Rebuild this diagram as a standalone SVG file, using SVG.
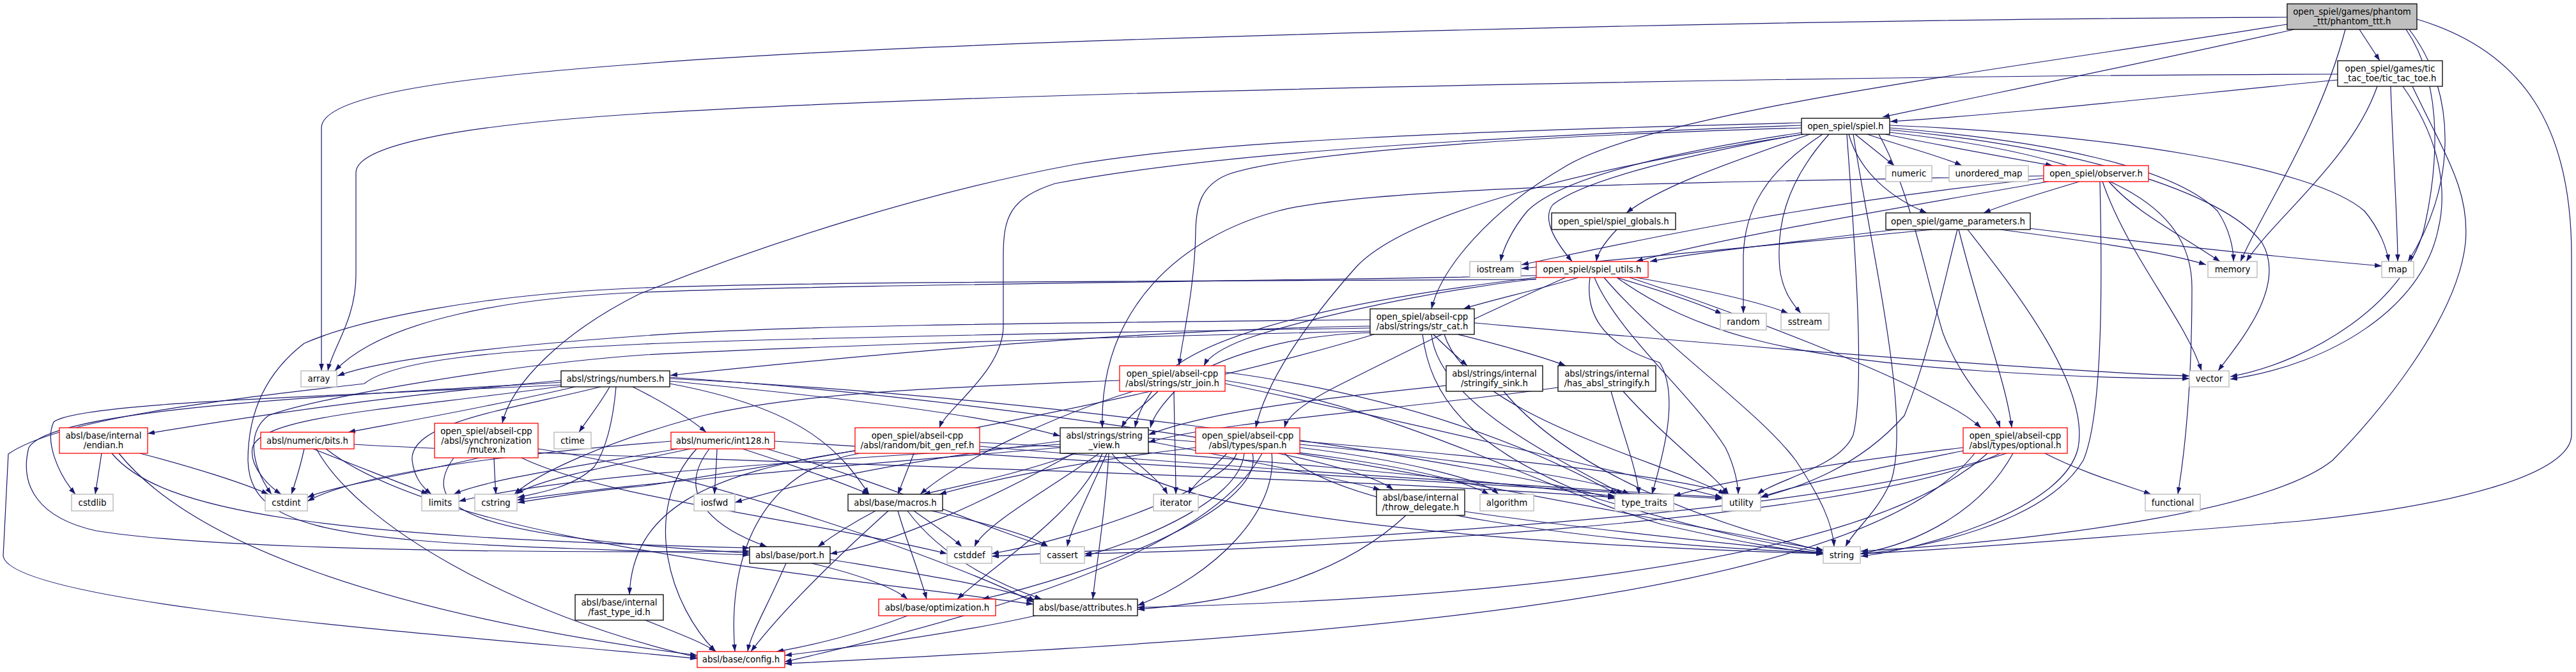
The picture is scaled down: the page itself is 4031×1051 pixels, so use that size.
<svg xmlns="http://www.w3.org/2000/svg" width="4031" height="1051" viewBox="0 0 4031 1051">
<style>
.t{font-family:"DejaVu Sans","Liberation Sans",sans-serif;font-size:13.33px;text-anchor:middle;fill:#000}
.g{fill:#fff;stroke:#bfbfbf;stroke-width:1.5}
.k{fill:#fff;stroke:#000;stroke-width:1.3}
.r{fill:#fff;stroke:#ff0000;stroke-width:1.3}
.root{fill:#bfbfbf;stroke:#000;stroke-width:1.3}
.e{fill:none;stroke:#191970;stroke-width:1.2;marker-end:url(#a)}
</style>
<defs>
<marker id="a" viewBox="0 0 10 7" refX="10" refY="3.5" markerWidth="11" markerHeight="8" markerUnits="userSpaceOnUse" orient="auto"><path d="M0,0L10,3.5L0,7z" fill="#191970"/></marker>
</defs>
<rect width="4031" height="1051" fill="#fff"/>
<g id="edges">
<path class="e" d="M3579,27 C2800,30 1500,60 1000,100 C700,122 503,150 503,200 L503,580"/>
<path class="e" d="M3579,38 C3200,100 2600,170 2450,260 C2330,330 2255,420 2240,483"/>
<path class="e" d="M3590,46 C3350,100 3100,150 2946,183"/>
<path class="e" d="M3692,46 L3724,95"/>
<path class="e" d="M3670,46 C3630,200 3540,330 3506,409"/>
<path class="e" d="M3770,46 C3850,150 3840,300 3768,409"/>
<path class="e" d="M3765,46 C3830,140 3810,280 3795,350 C3770,470 3620,565 3490,589"/>
<path class="e" d="M3782,30 C3950,80 4024,200 4024,400 L4024,680 C4024,740 3850,790 3600,815 C3300,840 3050,860 2912,866"/>
<path class="e" d="M3658,116 C3000,117 1600,140 1000,178 C700,197 557,230 557,270 L557,430 C557,500 520,545 513,580"/>
<path class="e" d="M3658,125 C3400,150 3150,178 2958,190"/>
<path class="e" d="M3720,135 C3680,250 3560,340 3515,409"/>
<path class="e" d="M3741,135 C3745,250 3752,350 3752,409"/>
<path class="e" d="M3760,135 C3820,220 3830,300 3815,360 C3790,480 3650,570 3490,593"/>
<path class="e" d="M3775,135 C3830,250 3865,300 3858,380 C3845,500 3720,650 3650,720 C3550,800 3200,845 2912,862"/>
<path class="e" d="M2903,210 L2964,259"/>
<path class="e" d="M2922,210 C2980,230 3040,245 3070,259"/>
<path class="e" d="M2950,210 C3050,230 3150,248 3212,259"/>
<path class="e" d="M2832,210 C2720,250 2600,290 2545,333"/>
<path class="e" d="M2893,210 C2910,270 2960,310 3015,333"/>
<path class="e" d="M2822,207 C2600,240 2440,280 2390,330 C2365,360 2352,390 2348,409"/>
<path class="e" d="M2825,209 C2650,240 2480,280 2430,320 C2410,345 2440,385 2460,409"/>
<path class="e" d="M2957,200 C3200,220 3400,260 3470,330 C3490,360 3495,390 3495,409"/>
<path class="e" d="M2957,196 C3300,210 3620,260 3700,330 C3725,360 3735,390 3738,409"/>
<path class="e" d="M2957,203 C3250,230 3480,300 3540,380 C3580,450 3500,540 3471,580"/>
<path class="e" d="M2900,210 C2930,400 2990,650 2960,750 C2940,800 2900,830 2888,855"/>
<path class="e" d="M2957,207 C3300,245 3430,320 3430,450 C3430,600 3420,700 3408,773"/>
<path class="e" d="M2852,210 C2760,270 2730,330 2728,400 L2728,490"/>
<path class="e" d="M2862,210 C2790,290 2780,360 2785,420 C2790,460 2810,480 2818,490"/>
<path class="e" d="M2890,210 C2900,350 2920,600 2900,680 C2880,730 2780,750 2750,773"/>
<path class="e" d="M2940,210 C2990,300 3010,420 3040,520 C3070,600 3120,640 3130,669"/>
<path class="e" d="M2822,210 C2500,260 2200,330 2120,420 C2040,510 1980,600 1965,669"/>
<path class="e" d="M2820,200 C2300,215 2000,245 1921,273 C1880,290 1872,320 1871,360 C1870,450 1850,530 1845,572"/>
<path class="e" d="M2820,196 C2300,215 1900,240 1651,287 C1580,310 1570,340 1570,400 L1570,510 C1570,580 1480,640 1470,669"/>
<path class="e" d="M2820,192 C2300,205 1900,220 1683,257 C1450,300 1200,380 1000,460 C880,520 800,600 786,662"/>
<path class="e" d="M3254,284 C3200,300 3140,318 3104,333"/>
<path class="e" d="M3300,284 C3340,330 3400,360 3474,409"/>
<path class="e" d="M3290,284 C3330,400 3420,500 3445,580"/>
<path class="e" d="M3286,284 C3290,450 3290,650 3260,720 C3200,820 3000,860 2912,866"/>
<path class="e" d="M3205,284 C3000,320 2700,370 2560,409"/>
<path class="e" d="M3198,279 C2800,320 2500,390 2381,414"/>
<path class="e" d="M3198,275 C2700,285 2150,290 2000,330 C1850,370 1720,480 1725,669"/>
<path class="e" d="M3130,359 C3250,375 3380,392 3452,414"/>
<path class="e" d="M3175,357 C3400,385 3600,405 3727,416"/>
<path class="e" d="M3079,359 C3150,450 3270,600 3252,700 C3230,800 3000,860 2912,870"/>
<path class="e" d="M2967,359 C2800,380 2650,395 2582,409"/>
<path class="e" d="M3024,359 C2800,380 2600,400 2381,420"/>
<path class="e" d="M3065,359 C3100,500 3140,600 3148,669"/>
<path class="e" d="M3063,359 C3040,450 3020,550 2980,650 C2900,740 2800,765 2756,778"/>
<path class="e" d="M2530,359 C2510,380 2500,395 2498,409"/>
<path class="e" d="M2404,431 C2000,440 1300,445 1008,457 C800,465 600,500 524,580"/>
<path class="e" d="M2470,434 C2400,455 2330,470 2290,483"/>
<path class="e" d="M2530,434 C2600,455 2660,475 2695,491"/>
<path class="e" d="M2560,434 C2650,450 2750,470 2798,490"/>
<path class="e" d="M2530,434 C2650,520 2800,560 3100,580 C3250,590 3370,592 3426,592"/>
<path class="e" d="M2510,434 C2600,540 2750,640 2810,720 C2850,780 2868,820 2870,855"/>
<path class="e" d="M2404,436 C2200,460 2016,507 1950,530 C1910,545 1890,560 1884,572"/>
<path class="e" d="M2450,434 C2300,500 2200,550 2100,600 C2040,630 2015,650 2010,669"/>
<path class="e" d="M2550,434 C2750,500 2950,580 3040,630 C3070,645 3090,660 3100,669"/>
<path class="e" d="M2488,434 C2479,500 2519,543 2597,567 C2630,620 2600,720 2585,773"/>
<path class="e" d="M2495,434 C2530,520 2650,620 2700,700 C2715,730 2720,760 2720,773"/>
<path class="e" d="M2404,437 C1800,440 1300,440 1008,450 C750,460 560,500 476,537 C420,580 388,640 388,720 C390,820 500,845 900,858 C1000,862 1100,865 1173,868"/>
<path class="e" d="M2404,434 C2100,470 1900,520 1830,580 C1790,620 1780,650 1776,669"/>
<path class="e" d="M2243,523 C2260,540 2280,558 2296,572"/>
<path class="e" d="M2281,523 C2350,540 2420,560 2450,572"/>
<path class="e" d="M2144,510 C1800,515 1400,550 1049,587"/>
<path class="e" d="M2150,520 C2016,523 1900,560 1850,600 C1820,630 1805,650 1800,669"/>
<path class="e" d="M2144,500 C1600,505 1200,510 1008,525 C800,540 600,560 528,588"/>
<path class="e" d="M2307,505 C2700,540 3200,580 3426,588"/>
<path class="e" d="M2226,523 C2238,617 2292,700 2500,780 C2700,840 2800,855 2853,864"/>
<path class="e" d="M2144,518 C1600,530 1200,545 1008,555 C800,570 500,620 420,650 C380,680 400,740 425,773"/>
<path class="e" d="M2144,513 C1700,520 1200,530 1008,538 C800,548 620,560 570,600 C400,620 100,650 13,710 L5,870 C20,950 800,1000 1091,1030"/>
<path class="e" d="M2240,523 C2250,620 2400,700 2540,773"/>
<path class="e" d="M2260,523 C2300,650 2600,720 2700,773"/>
<path class="e" d="M2150,523 C1900,600 1400,700 1008,760 C900,770 850,780 810,786"/>
<path class="e" d="M2263,603 C2100,620 1900,640 1797,680"/>
<path class="e" d="M2353,612 C2434,710 2600,800 2853,862"/>
<path class="e" d="M2438,606 C2200,640 1900,660 1797,692"/>
<path class="e" d="M2521,612 C2540,680 2560,730 2565,773"/>
<path class="e" d="M2540,612 C2600,680 2680,740 2705,773"/>
<path class="e" d="M1812,612 C1790,635 1765,650 1755,669"/>
<path class="e" d="M1837,612 C1838,680 1840,740 1840,773"/>
<path class="e" d="M1773,612 C1650,650 1500,720 1440,773"/>
<path class="e" d="M1752,595 C1500,605 1265,612 1100,650 C950,690 840,740 805,773"/>
<path class="e" d="M1917,595 C2200,640 2400,760 2600,820 C2750,855 2820,862 2853,867"/>
<path class="e" d="M1917,582 C2200,620 2400,700 2530,773"/>
<path class="e" d="M1917,600 C2200,660 2500,730 2695,778"/>
<path class="e" d="M878,595 C600,620 400,650 231,678"/>
<path class="e" d="M900,605 C750,640 600,665 545,676"/>
<path class="e" d="M954,605 C940,630 920,655 906,676"/>
<path class="e" d="M990,605 C1040,630 1080,655 1105,676"/>
<path class="e" d="M1048,596 C1300,620 1550,650 1659,682"/>
<path class="e" d="M878,602 C500,620 120,630 84,660 C70,690 90,740 118,773"/>
<path class="e" d="M880,604 C620,640 410,650 395,700 C390,730 420,760 440,773"/>
<path class="e" d="M940,605 C800,640 640,660 645,720 C648,750 665,765 675,773"/>
<path class="e" d="M964,605 C960,650 950,700 930,730 C900,760 850,770 810,778"/>
<path class="e" d="M878,598 C500,620 80,640 45,700 C30,760 60,810 150,830 C300,855 700,866 1173,862"/>
<path class="e" d="M1048,600 C1265,640 1317,710 1360,773"/>
<path class="e" d="M1048,592 C1600,620 2200,700 2527,780"/>
<path class="e" d="M1048,590 C1800,640 2500,800 2853,860"/>
<path class="e" d="M159,709 L149,773"/>
<path class="e" d="M219,709 C300,730 380,755 420,773"/>
<path class="e" d="M175,709 C250,800 500,840 1173,857"/>
<path class="e" d="M186,709 C300,850 600,960 1091,1025"/>
<path class="e" d="M476,702 C470,730 462,755 456,773"/>
<path class="e" d="M490,702 C560,730 640,760 670,773"/>
<path class="e" d="M495,702 C560,820 800,960 1091,1028"/>
<path class="e" d="M554,695 C1000,720 2000,740 2527,778"/>
<path class="e" d="M510,702 C700,850 1300,900 1617,945"/>
<path class="e" d="M750,716 C650,740 520,760 481,778"/>
<path class="e" d="M773,716 C774,740 775,760 776,773"/>
<path class="e" d="M710,716 C650,800 750,840 1173,865"/>
<path class="e" d="M816,716 C950,780 1250,810 1482,866"/>
<path class="e" d="M842,702 C1100,740 1500,880 1617,942"/>
<path class="e" d="M1050,690 C800,710 560,740 481,784"/>
<path class="e" d="M1122,702 C1121,730 1119,755 1118,773"/>
<path class="e" d="M1060,702 C900,730 760,750 710,773"/>
<path class="e" d="M1080,702 C950,730 840,750 808,773"/>
<path class="e" d="M1162,702 C1250,730 1330,760 1360,773"/>
<path class="e" d="M1110,702 C1050,780 1130,830 1200,855"/>
<path class="e" d="M1090,702 C1000,800 1050,950 1120,1019"/>
<path class="e" d="M1200,702 C1400,760 1550,830 1640,855"/>
<path class="e" d="M1212,690 C1700,720 2300,760 2695,780"/>
<path class="e" d="M1430,709 C1422,730 1412,755 1405,773"/>
<path class="e" d="M1338,705 C1100,740 990,800 985,930"/>
<path class="e" d="M1345,709 C1170,740 1140,900 1150,1019"/>
<path class="e" d="M1533,692 C1900,710 2300,750 2527,776"/>
<path class="e" d="M1533,698 C1900,730 2400,760 2695,778"/>
<path class="e" d="M1683,709 C1600,740 1500,760 1445,773"/>
<path class="e" d="M1720,709 C1650,760 1540,820 1525,855"/>
<path class="e" d="M1725,709 C1690,800 1560,880 1498,937"/>
<path class="e" d="M1732,709 C1700,780 1675,830 1670,855"/>
<path class="e" d="M1735,709 C1730,800 1716,880 1710,937"/>
<path class="e" d="M1760,709 C1800,740 1820,760 1827,773"/>
<path class="e" d="M1740,709 C1800,800 2300,850 2853,866"/>
<path class="e" d="M1659,690 C1500,710 1300,740 1150,786"/>
<path class="e" d="M1659,695 C1300,720 900,740 718,784"/>
<path class="e" d="M1659,700 C1300,730 950,760 809,782"/>
<path class="e" d="M1797,690 C1950,720 2100,750 2160,766"/>
<path class="e" d="M1797,685 C2000,700 2250,730 2330,773"/>
<path class="e" d="M1680,709 C1550,780 1400,850 1299,866"/>
<path class="e" d="M1871,700 C1700,720 1550,750 1470,773"/>
<path class="e" d="M1920,709 C1890,740 1865,760 1860,773"/>
<path class="e" d="M1935,709 C1920,760 1700,840 1552,866"/>
<path class="e" d="M1947,709 C1940,780 1800,840 1697,870"/>
<path class="e" d="M1960,709 C1980,800 1700,900 1537,937"/>
<path class="e" d="M1975,709 C1900,850 1600,950 1228,1035"/>
<path class="e" d="M1990,709 C2000,800 1900,900 1780,947"/>
<path class="e" d="M2000,709 C2100,730 2160,750 2180,766"/>
<path class="e" d="M2034,700 C2200,720 2320,750 2345,773"/>
<path class="e" d="M2034,695 C2300,720 2500,750 2550,773"/>
<path class="e" d="M2034,690 C2400,720 2650,750 2705,773"/>
<path class="e" d="M2010,709 C2100,800 2500,850 2853,865"/>
<path class="e" d="M3200,709 C3260,740 3330,760 3366,773"/>
<path class="e" d="M3072,705 C2950,730 2800,760 2755,778"/>
<path class="e" d="M3072,700 C2900,720 2700,750 2619,776"/>
<path class="e" d="M3110,709 C2900,900 2200,940 1780,950"/>
<path class="e" d="M3090,709 C2900,950 2000,1000 1228,1038"/>
<path class="e" d="M3130,709 C2900,820 2000,860 1697,866"/>
<path class="e" d="M3140,709 C2800,820 1900,850 1552,870"/>
<path class="e" d="M3150,709 C3100,800 3000,850 2911,866"/>
<path class="e" d="M2292,800 C2500,830 2750,855 2853,865"/>
<path class="e" d="M2200,806 C2100,900 1950,940 1780,953"/>
<path class="e" d="M1370,799 C1330,820 1300,840 1280,855"/>
<path class="e" d="M1430,799 C1460,820 1490,840 1505,855"/>
<path class="e" d="M1458,799 C1550,820 1620,840 1640,855"/>
<path class="e" d="M1405,799 C1420,850 1440,900 1450,937"/>
<path class="e" d="M1420,799 C1480,880 1580,920 1630,937"/>
<path class="e" d="M1390,799 C1300,880 1220,960 1175,1019"/>
<path class="e" d="M1230,881 C1200,950 1175,990 1170,1019"/>
<path class="e" d="M1270,881 C1350,900 1400,920 1420,937"/>
<path class="e" d="M1299,875 C1450,900 1580,920 1620,940"/>
<path class="e" d="M1420,963 C1350,990 1270,1010 1215,1019"/>
<path class="e" d="M1620,963 C1500,990 1350,1010 1228,1025"/>
<path class="e" d="M1010,970 C1060,990 1100,1005 1120,1019"/>
</g>
<g id="n_phantom"><rect class="root" x="3579" y="6" width="203" height="40"/><text class="t" x="3680.5" y="22.7">open_spiel/games/phantom</text><text class="t" x="3680.5" y="37.7">_ttt/phantom_ttt.h</text></g>
<g id="n_tic"><rect class="k" x="3658" y="95" width="164" height="40"/><text class="t" x="3740" y="111.7">open_spiel/games/tic</text><text class="t" x="3740" y="126.7">_tac_toe/tic_tac_toe.h</text></g>
<g id="n_spiel"><rect class="k" x="2819" y="185" width="138" height="25"/><text class="t" x="2888" y="202.2">open_spiel/spiel.h</text></g>
<g id="n_numeric"><rect class="g" x="2951" y="259" width="72" height="25"/><text class="t" x="2987" y="276.2">numeric</text></g>
<g id="n_umap"><rect class="g" x="3050" y="259" width="124" height="25"/><text class="t" x="3112" y="276.2">unordered_map</text></g>
<g id="n_observer"><rect class="r" x="3198" y="259" width="164" height="25"/><text class="t" x="3280" y="276.2">open_spiel/observer.h</text></g>
<g id="n_globals"><rect class="k" x="2428" y="333" width="194" height="26"/><text class="t" x="2525" y="350.5">open_spiel/spiel_globals.h</text></g>
<g id="n_gparams"><rect class="k" x="2951" y="333" width="226" height="26"/><text class="t" x="3064" y="350.5">open_spiel/game_parameters.h</text></g>
<g id="n_iostream"><rect class="g" x="2300" y="409" width="80" height="25"/><text class="t" x="2340" y="426.2">iostream</text></g>
<g id="n_utils"><rect class="r" x="2404" y="409" width="175" height="25"/><text class="t" x="2491.5" y="426.2">open_spiel/spiel_utils.h</text></g>
<g id="n_memory"><rect class="g" x="3455" y="409" width="77" height="25"/><text class="t" x="3493.5" y="426.2">memory</text></g>
<g id="n_map"><rect class="g" x="3727" y="409" width="50" height="25"/><text class="t" x="3752" y="426.2">map</text></g>
<g id="n_strcat"><rect class="k" x="2144" y="483" width="163" height="40"/><text class="t" x="2225.5" y="499.7">open_spiel/abseil-cpp</text><text class="t" x="2225.5" y="514.7">/absl/strings/str_cat.h</text></g>
<g id="n_random"><rect class="g" x="2692" y="490" width="72" height="26"/><text class="t" x="2728" y="507.5">random</text></g>
<g id="n_sstream"><rect class="g" x="2787" y="490" width="75" height="26"/><text class="t" x="2824.5" y="507.5">sstream</text></g>
<g id="n_sink"><rect class="k" x="2263" y="572" width="151" height="40"/><text class="t" x="2338.5" y="588.7">absl/strings/internal</text><text class="t" x="2338.5" y="603.7">/stringify_sink.h</text></g>
<g id="n_hasabsl"><rect class="k" x="2438" y="572" width="153" height="40"/><text class="t" x="2514.5" y="588.7">absl/strings/internal</text><text class="t" x="2514.5" y="603.7">/has_absl_stringify.h</text></g>
<g id="n_strjoin"><rect class="r" x="1752" y="572" width="165" height="40"/><text class="t" x="1834.5" y="588.7">open_spiel/abseil-cpp</text><text class="t" x="1834.5" y="603.7">/absl/strings/str_join.h</text></g>
<g id="n_array"><rect class="g" x="471" y="580" width="56" height="25"/><text class="t" x="499" y="597.2">array</text></g>
<g id="n_numbers"><rect class="k" x="878" y="580" width="170" height="25"/><text class="t" x="963" y="597.2">absl/strings/numbers.h</text></g>
<g id="n_vector"><rect class="g" x="3426" y="580" width="62" height="25"/><text class="t" x="3457" y="597.2">vector</text></g>
<g id="n_endian"><rect class="r" x="93" y="669" width="138" height="40"/><text class="t" x="162" y="685.7">absl/base/internal</text><text class="t" x="162" y="700.7">/endian.h</text></g>
<g id="n_mutex"><rect class="r" x="680" y="662" width="162" height="54"/><text class="t" x="761" y="678.7">open_spiel/abseil-cpp</text><text class="t" x="761" y="693.7">/absl/synchronization</text><text class="t" x="761" y="708.2">/mutex.h</text></g>
<g id="n_bitgen"><rect class="r" x="1338" y="669" width="195" height="40"/><text class="t" x="1435.5" y="685.7">open_spiel/abseil-cpp</text><text class="t" x="1435.5" y="700.7">/absl/random/bit_gen_ref.h</text></g>
<g id="n_sview"><rect class="k" x="1659" y="669" width="138" height="40"/><text class="t" x="1728" y="685.7">absl/strings/string</text><text class="t" x="1728" y="700.7">_view.h</text></g>
<g id="n_span"><rect class="r" x="1871" y="669" width="163" height="40"/><text class="t" x="1952.5" y="685.7">open_spiel/abseil-cpp</text><text class="t" x="1952.5" y="700.7">/absl/types/span.h</text></g>
<g id="n_optional"><rect class="r" x="3072" y="669" width="163" height="40"/><text class="t" x="3153.5" y="685.7">open_spiel/abseil-cpp</text><text class="t" x="3153.5" y="700.7">/absl/types/optional.h</text></g>
<g id="n_bits"><rect class="r" x="408" y="676" width="146" height="26"/><text class="t" x="481" y="693.5">absl/numeric/bits.h</text></g>
<g id="n_ctime"><rect class="g" x="867" y="676" width="58" height="26"/><text class="t" x="896" y="693.5">ctime</text></g>
<g id="n_int128"><rect class="r" x="1050" y="676" width="162" height="26"/><text class="t" x="1131" y="693.5">absl/numeric/int128.h</text></g>
<g id="n_cstdlib"><rect class="g" x="112" y="773" width="65" height="26"/><text class="t" x="144.5" y="790.5">cstdlib</text></g>
<g id="n_cstdint"><rect class="g" x="415" y="773" width="66" height="26"/><text class="t" x="448" y="790.5">cstdint</text></g>
<g id="n_limits"><rect class="g" x="660" y="773" width="58" height="26"/><text class="t" x="689" y="790.5">limits</text></g>
<g id="n_cstring"><rect class="g" x="743" y="773" width="66" height="26"/><text class="t" x="776" y="790.5">cstring</text></g>
<g id="n_iosfwd"><rect class="g" x="1086" y="773" width="64" height="26"/><text class="t" x="1118" y="790.5">iosfwd</text></g>
<g id="n_macros"><rect class="k" x="1327" y="773" width="148" height="26"/><text class="t" x="1401" y="790.5">absl/base/macros.h</text></g>
<g id="n_iterator"><rect class="g" x="1805" y="773" width="70" height="26"/><text class="t" x="1840" y="790.5">iterator</text></g>
<g id="n_throw"><rect class="k" x="2154" y="766" width="138" height="40"/><text class="t" x="2223" y="782.7">absl/base/internal</text><text class="t" x="2223" y="797.7">/throw_delegate.h</text></g>
<g id="n_algorithm"><rect class="g" x="2316" y="773" width="84" height="26"/><text class="t" x="2358" y="790.5">algorithm</text></g>
<g id="n_typetraits"><rect class="g" x="2527" y="773" width="92" height="26"/><text class="t" x="2573" y="790.5">type_traits</text></g>
<g id="n_utility"><rect class="g" x="2695" y="773" width="60" height="26"/><text class="t" x="2725" y="790.5">utility</text></g>
<g id="n_functional"><rect class="g" x="3357" y="773" width="86" height="26"/><text class="t" x="3400" y="790.5">functional</text></g>
<g id="n_port"><rect class="k" x="1173" y="855" width="126" height="26"/><text class="t" x="1236" y="872.5">absl/base/port.h</text></g>
<g id="n_cstddef"><rect class="g" x="1482" y="855" width="70" height="26"/><text class="t" x="1517" y="872.5">cstddef</text></g>
<g id="n_cassert"><rect class="g" x="1628" y="855" width="69" height="26"/><text class="t" x="1662.5" y="872.5">cassert</text></g>
<g id="n_string"><rect class="g" x="2853" y="855" width="58" height="26"/><text class="t" x="2882" y="872.5">string</text></g>
<g id="n_fasttype"><rect class="k" x="900" y="930" width="138" height="40"/><text class="t" x="969" y="946.7">absl/base/internal</text><text class="t" x="969" y="961.7">/fast_type_id.h</text></g>
<g id="n_optim"><rect class="r" x="1375" y="937" width="183" height="26"/><text class="t" x="1466.5" y="954.5">absl/base/optimization.h</text></g>
<g id="n_attrs"><rect class="k" x="1617" y="937" width="163" height="26"/><text class="t" x="1698.5" y="954.5">absl/base/attributes.h</text></g>
<g id="n_config"><rect class="r" x="1091" y="1019" width="137" height="25"/><text class="t" x="1159.5" y="1036.2">absl/base/config.h</text></g>
</svg>
